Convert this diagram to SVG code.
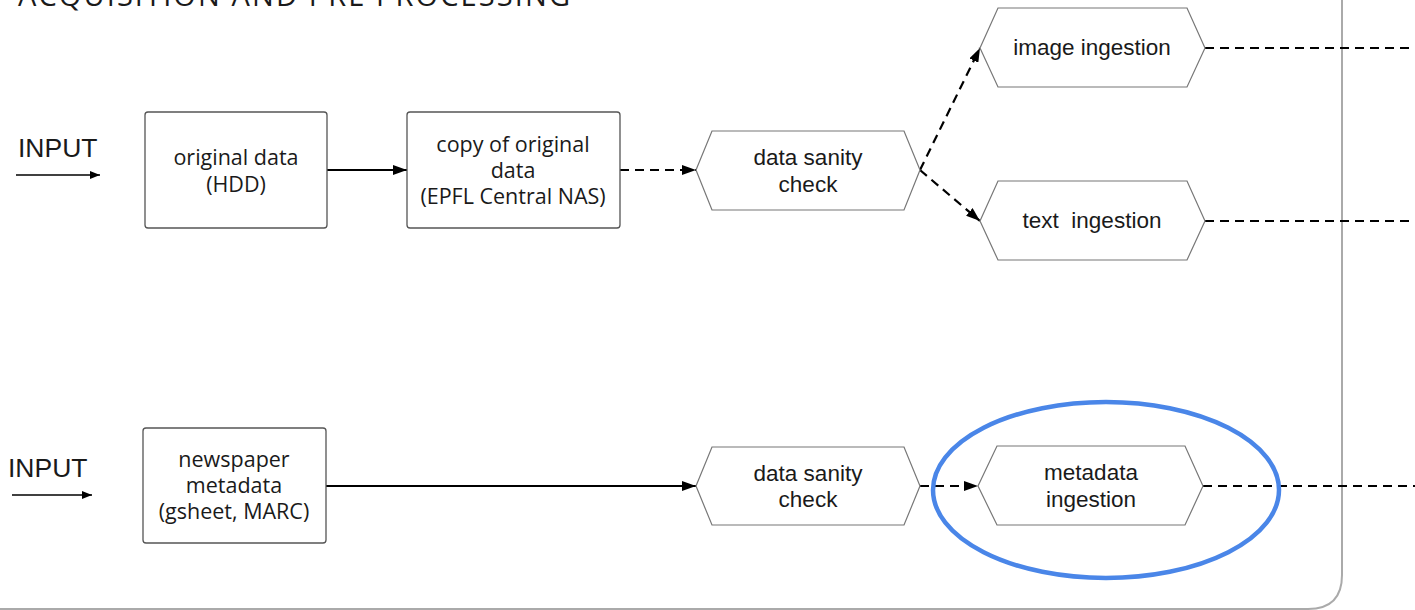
<svg xmlns="http://www.w3.org/2000/svg" width="1415" height="610" viewBox="0 0 1415 610">
<defs>
<style>
.box{fill:#fff;stroke:#555;stroke-width:1.3}
.hex{fill:#fff;stroke:#777;stroke-width:1.2}
.bt{font-family:"Open Sans","Noto Sans",sans-serif;font-size:21.5px;fill:#1a1a1a;text-anchor:middle}
.ht{font-family:"Liberation Sans",Arial,sans-serif;font-size:22.5px;fill:#1a1a1a;text-anchor:middle}
.in{font-family:"Liberation Sans",Arial,sans-serif;font-size:26.5px;fill:#1a1a1a}
.solid{stroke:#000;stroke-width:2.2;fill:none}
.thin{stroke:#000;stroke-width:1.3;fill:none}
.dash{stroke:#000;stroke-width:2.2;fill:none;stroke-dasharray:9,6}
</style>
<marker id="a2" viewBox="0 0 14 10" refX="14" refY="5" markerWidth="14" markerHeight="10" markerUnits="userSpaceOnUse" orient="auto">
<path d="M0,0 L14,5 L0,10 z" fill="#000"/>
</marker>
<marker id="a3" viewBox="0 0 10 8" refX="10" refY="4" markerWidth="10" markerHeight="8" markerUnits="userSpaceOnUse" orient="auto">
<path d="M0,0 L10,4 L0,8 z" fill="#000"/>
</marker>
</defs>
<rect width="1415" height="610" fill="#fff"/>
<g id="frame">
<path d="M1342,0 V575 Q1342,609 1308,609 H0" fill="none" stroke="#aaa" stroke-width="2"/>
<text x="18" y="6" font-family="'Open Sans','Noto Sans',sans-serif" font-size="29" fill="#1a1a1a" textLength="552">ACQUISITION AND PRE PROCESSING</text>
</g>
<g id="connectors">
<line class="thin" x1="16" y1="175" x2="100" y2="175" marker-end="url(#a3)"/>
<line class="thin" x1="12" y1="495" x2="92" y2="495" marker-end="url(#a3)"/>
<line class="solid" x1="327" y1="170" x2="407" y2="170" marker-end="url(#a2)"/>
<line class="dash" x1="620" y1="170" x2="696" y2="170" marker-end="url(#a2)"/>
<line class="dash" x1="920" y1="170" x2="980" y2="48" marker-end="url(#a2)"/>
<line class="dash" x1="920" y1="170" x2="980" y2="221" marker-end="url(#a2)"/>
<line class="dash" x1="1205" y1="48" x2="1415" y2="48"/>
<line class="dash" x1="1205" y1="221" x2="1415" y2="221"/>
<line class="solid" x1="326" y1="486" x2="696" y2="486" marker-end="url(#a2)"/>
<line class="dash" x1="920" y1="486" x2="978" y2="486" marker-end="url(#a2)"/>
<line class="dash" x1="1203" y1="486" x2="1415" y2="486"/>
</g>
<g id="input1"><text class="in" x="18" y="157">INPUT</text></g>
<g id="input2"><text class="in" x="8" y="477">INPUT</text></g>
<g id="original">
<rect class="box" x="145" y="112" width="182" height="116" rx="3"/>
<text class="bt" x="236" y="165">original data</text>
<text class="bt" x="236" y="192">(HDD)</text>
</g>
<g id="copy">
<rect class="box" x="407" y="112" width="213" height="116" rx="3"/>
<text class="bt" x="513" y="152">copy of original</text>
<text class="bt" x="513" y="178">data</text>
<text class="bt" x="513" y="204">(EPFL Central NAS)</text>
</g>
<g id="sanity1">
<polygon class="hex" points="696,170 712,131 904,131 920,170 904,210 712,210"/>
<text class="ht" x="808" y="165">data sanity</text>
<text class="ht" x="808" y="192">check</text>
</g>
<g id="image">
<polygon class="hex" points="980,48 998,8 1187,8 1205,48 1187,87 998,87"/>
<text class="ht" x="1092" y="55">image ingestion</text>
</g>
<g id="text">
<polygon class="hex" points="980,221 998,181 1187,181 1205,221 1187,260 998,260"/>
<text class="ht" x="1092" y="228" xml:space="preserve">text  ingestion</text>
</g>
<g id="newspaper">
<rect class="box" x="143" y="428" width="183" height="115" rx="3"/>
<text class="bt" x="234" y="467">newspaper</text>
<text class="bt" x="234" y="493">metadata</text>
<text class="bt" x="234" y="519">(gsheet, MARC)</text>
</g>
<g id="sanity2">
<polygon class="hex" points="696,486 712,447 904,447 920,486 904,525 712,525"/>
<text class="ht" x="808" y="481">data sanity</text>
<text class="ht" x="808" y="507">check</text>
</g>
<g id="metadata">
<polygon class="hex" points="978,486 997,446 1185,446 1203,486 1185,525 997,525"/>
<text class="ht" x="1091" y="480">metadata</text>
<text class="ht" x="1091" y="507">ingestion</text>
</g>
<g id="highlight">
<ellipse cx="1106" cy="490" rx="173" ry="88" fill="none" stroke="#4a86e8" stroke-width="4.5"/>
</g>
</svg>
